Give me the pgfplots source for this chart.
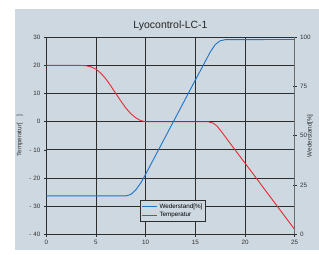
\documentclass[border=0pt]{standalone}
\usepackage{fontspec}
\setmainfont{Liberation Sans}
\usepackage{pgfplots}
\pgfplotsset{compat=1.18}
\definecolor{bg}{RGB}{205,216,224}
\definecolor{wblue}{RGB}{30,115,200}
\definecolor{tred}{RGB}{232,40,50}
\definecolor{gridc}{RGB}{45,45,45}
\begin{document}
\begin{tikzpicture}[x=1bp,y=1bp]
\path[use as bounding box] (0,0) rectangle (319,255);
\fill[bg] (15,5) rectangle (319,246);
\begin{axis}[
 at={(46.3bp,20.7bp)}, anchor=south west,
 scale only axis, width=248.4bp, height=197bp,
 xmin=0, xmax=25, ymin=-40, ymax=30,
 xtick={0,5,...,25}, ytick={-40,-30,...,30},
 yticklabels={- 40,- 30,- 20,- 10,0,10,20,30},
 xtick pos=bottom, ytick pos=left,
 grid=major, major grid style={gridc, line width=0.9bp},
 axis line style={gridc, line width=1.1bp},
 tick style={gridc, line width=0.7bp},
 tick align=outside, major tick length=2.5bp,
 ticklabel style={font=\fontsize{6.3}{7}\selectfont, text=black!80},
 /pgf/number format/assume math mode=true,
 ylabel={Temperatur[\quad]},
 ylabel style={font=\fontsize{6.3}{7}\selectfont, text=black!80},
 title={Lyocontrol-LC-1},
 every axis title/.style={at={(0.5,1)}, anchor=base, yshift=8.5bp,
   font=\fontsize{10.5}{12}\selectfont, text=black!85},
]
\addplot[tred, line width=0.9bp] coordinates {
(0,20) (3.5,20) (4,19.9) (4.5,19.5) (5,18.7) (5.5,17.2) (6,15.2) (6.5,12.7) (7,10) (7.5,7.4) (8,4.9) (8.5,2.9) (9,1.4) (9.5,0.4) (10,0) (16.3,0) (16.8,-0.5) (17.2,-1.6) (17.6,-3.4) (25,-38.3)
};
\end{axis}
\begin{axis}[
 at={(46.3bp,20.7bp)}, anchor=south west,
 scale only axis, width=248.4bp, height=197bp,
 xmin=0, xmax=25, ymin=0, ymax=100,
 axis x line=none, axis y line*=right,
 ytick={0,25,50,75,100},
 axis line style={gridc!70, line width=1.1bp},
 tick style={gridc, line width=0.7bp},
 tick align=center, major tick length=4bp,
 ticklabel style={font=\fontsize{6.3}{7}\selectfont, text=black!80},
 /pgf/number format/assume math mode=true,
 ylabel={Wederstand[\%]},
 every axis y label/.style={at={(axis description cs:1.062,0.5)}, rotate=90, anchor=center,
   font=\fontsize{6.3}{7}\selectfont, text=black!80},
 legend style={fill=bg, draw=gridc, line width=0.8bp, font=\fontsize{6.3}{7}\selectfont,
   at={(0.51,0.062)}, anchor=south, inner sep=1.5bp, row sep=-1.5bp},
 legend cell align=left,
 legend image code/.code={\draw[line width=0.9bp, #1] (0bp,0bp) -- (15bp,0bp);},
]
\addplot[wblue, line width=0.9bp] coordinates {
(0,19.5) (8,19.5) (8.5,20.2) (9,22.5) (9.5,26) (10,30.5) (15,78.3) (16.5,92.5) (17,96.3) (17.5,98.2) (18,98.8) (25,98.9)
};
\addlegendentry{Wederstand[\%]\hspace{8bp}}
\addlegendimage{tred, line width=0.9bp}
\addlegendentry{Temperatur}
\end{axis}
\end{tikzpicture}
\end{document}
